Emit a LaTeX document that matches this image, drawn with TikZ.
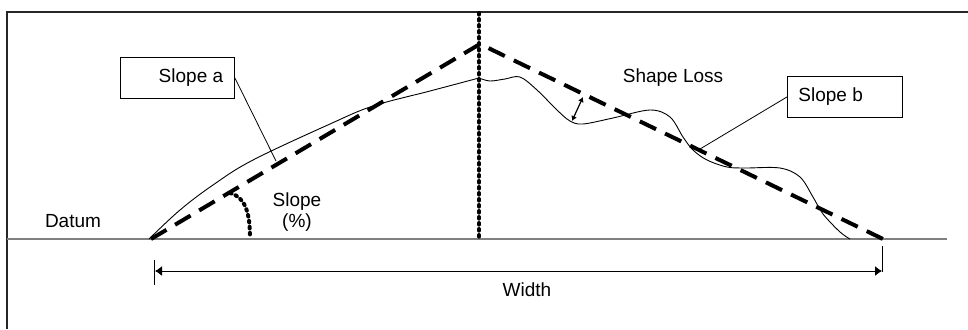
\documentclass[tikz,border=0pt]{standalone}
\usepackage{fontspec}
\setmainfont{Liberation Sans}
\usetikzlibrary{arrows.meta}
\begin{document}
\begin{tikzpicture}[x=1bp,y=-1bp,
  every node/.style={font=\fontsize{19bp}{21bp}\selectfont, inner sep=0pt},
  frameline/.style={line width=1.5bp, draw=black!85},
  datumline/.style={line width=1.3bp, draw=black!50},
  trendline/.style={line width=4bp, dash pattern=on 18bp off 10bp},
  centreline/.style={line width=4bp, line cap=round, dash pattern=on 1.6bp off 4.4bp},
  profile/.style={line width=0.9bp},
  thin/.style={line width=0.8bp},
  labelbox/.style={draw, line width=0.9bp, minimum height=41bp},
  dimarrow/.style={line width=1bp, {Latex[length=7bp,width=10bp]}-{Latex[length=7bp,width=10bp]}},
  lossarrow/.style={line width=1.2bp, {Latex[length=5bp,width=6bp]}-{Latex[length=5bp,width=6bp]}}
]
\useasboundingbox (0,0) rectangle (968,329);
% frame
\coordinate (ftl) at (7,12);
\coordinate (ftr) at (968,12);
\coordinate (fbl) at (7,329);
\draw[frameline] (fbl) -- (ftl) -- (ftr);
% datum
\coordinate (dl) at (7,239);
\coordinate (dr) at (947,239);
\draw[datumline] (dl) -- (dr);
% key points
\coordinate (bl) at (151,239);
\coordinate (ap) at (480,44);
\coordinate (br) at (883,239);
% profile curve
\draw[profile] plot[smooth, tension=0.6] coordinates {(149,239) (180,210) (213,185) (253,160) (330,124) (373,106) (430,91) (479,78)};
\draw[profile] plot[smooth, tension=0.55] coordinates {(479,78) (490,81) (505,79) (520,77) (537,90) (557,110) (570,121) (583,124) (613,118) (650,110) (670,117) (683,137) (693,150) (707,160) (727,167) (745,168) (780,168) (800,177) (813,197) (823,214) (840,232) (850,239)};
% trend lines
\draw[trendline] (bl) -- (ap) -- (br);
% centre dotted line
\coordinate (ct) at (479,13);
\coordinate (cb) at (479,238);
\draw[centreline] (ct) -- (cb);
% slope angle
\coordinate (sa1) at (230,193);
\coordinate (sa2) at (250,238);
\draw[centreline] (sa1) .. controls (245,197) and (250,212) .. (sa2);
% labels
\node (datum) at (73,221) {Datum};
\node (slopepct) [align=center] at (297,212) {Slope\\(\%)};
\node (shapeloss) at (673,78) {Shape Loss};
\node (width) at (527,290) {Width};
% boxes
\node (boxa) [labelbox, minimum width=114bp, anchor=north west] at (120,57) {\hspace*{38bp}Slope a\hspace*{11bp}};
\node (boxb) [labelbox, minimum width=115bp, anchor=north west] at (787,76) {\hspace*{11bp}Slope b\hspace*{40bp}};
\coordinate (la) at (276,161);
\coordinate (lb) at (700,149);
\draw[thin] (boxa.east) -- (la);
\draw[thin] (boxb.west) -- (lb);
% shape loss arrow
\coordinate (sl1) at (572,121);
\coordinate (sl2) at (583,97);
\draw[lossarrow] (sl1) -- (sl2);
% width dimension
\coordinate (wl) at (155,271);
\coordinate (wr) at (882,271);
\draw[dimarrow] (wl) -- (wr);
\coordinate (tl1) at (154,260);
\coordinate (tl2) at (154,285);
\coordinate (tr1) at (882,246);
\coordinate (tr2) at (882,272);
\draw[thin] (tl1) -- (tl2);
\draw[thin] (tr1) -- (tr2);
\end{tikzpicture}
\end{document}
